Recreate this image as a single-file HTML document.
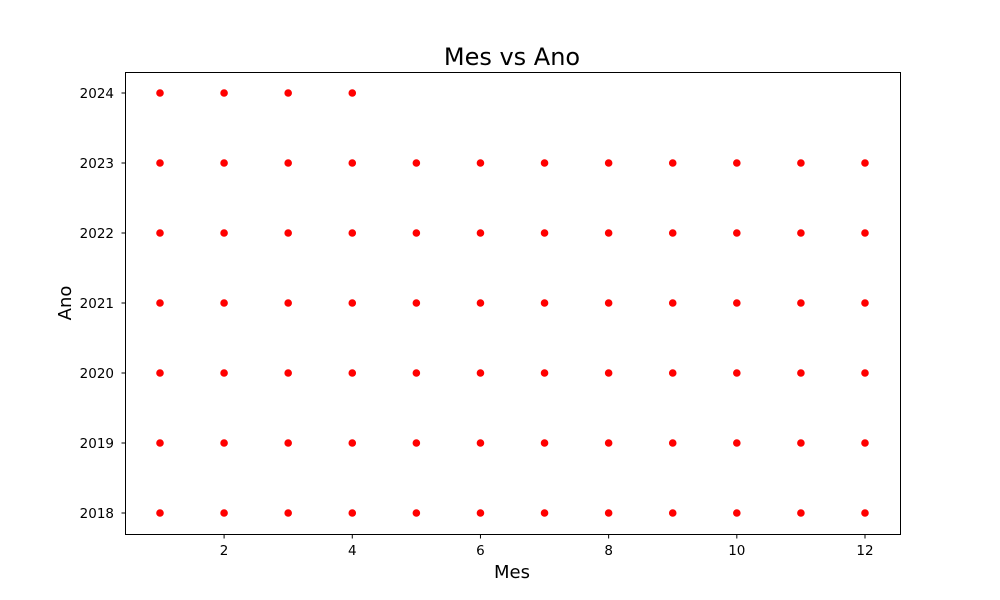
<!DOCTYPE html>
<html><head><meta charset="utf-8"><style>body{margin:0;background:#fff}svg{display:block;font-family:"DejaVu Sans","Liberation Sans",sans-serif}</style></head>
<body>
<svg id="chart" width="1000" height="600">
<rect x="0" y="0" width="1000" height="600" fill="#fff"/>
<text x="512" y="65" font-size="24" text-anchor="middle">Mes vs Ano</text>
<text x="512" y="578" font-size="18" text-anchor="middle">Mes</text>
<text x="71" y="303" font-size="18" text-anchor="middle" transform="rotate(-90 71 303)">Ano</text>
<g id="ticks"></g>
<g id="points"></g>
<rect x="125.5" y="72.5" width="775" height="462" fill="none" stroke="#000" stroke-width="1"/>
</svg>
<script>
const years=[2018,2019,2020,2021,2022,2023,2024];
const months=[1,2,3,4,5,6,7,8,9,10,11,12];
const monthsLastYear=[1,2,3,4];
const xTicks=[2,4,6,8,10,12];
const yTicks=[2018,2019,2020,2021,2022,2023,2024];
const NS="http://www.w3.org/2000/svg";
function xs(v){return 160+(v-1)*(865-160)/11;}
function ys(v){return 513-(v-2018)*70;}
const tg=document.getElementById('ticks');
function mk(tag,attrs,parent){const e=document.createElementNS(NS,tag);for(const k in attrs)e.setAttribute(k,attrs[k]);parent.appendChild(e);return e;}
xTicks.forEach(t=>{
 const l=mk('line',{x1:xs(t),x2:xs(t),y1:534.5,y2:538.5,stroke:'#000'},tg);
 
 
 const tx=mk('text',{x:xs(t),y:555,'font-size':13.5,'text-anchor':'middle'},tg);tx.textContent=t;
 
 
});
yTicks.forEach(t=>{
 const l=mk('line',{x1:121.5,x2:125.5,y1:ys(t),y2:ys(t),stroke:'#000'},tg);
 
 
 const tx=mk('text',{x:114,y:ys(t)+5,'font-size':13.5,'text-anchor':'end'},tg);tx.textContent=t;
 
 
});
const pg=document.getElementById('points');
years.forEach(y=>{
 const ms=(y===2024)?monthsLastYear:months;
 ms.forEach(m=>{
  const c=mk('circle',{cx:xs(m),cy:ys(y),r:3.8,fill:'#ff0000'},pg);
  
  
 });
});
</script>
</body></html>
